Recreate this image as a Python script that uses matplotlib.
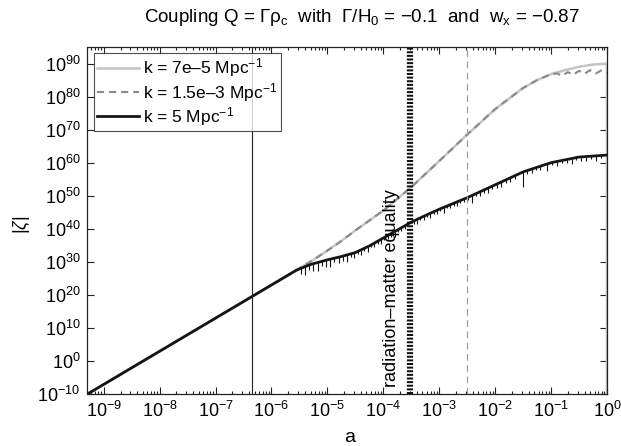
import numpy as np
import matplotlib
matplotlib.use("Agg")
import matplotlib.pyplot as plt
from matplotlib.ticker import FixedLocator, LogLocator, NullLocator, NullFormatter

plt.rcParams['font.family'] = ['Liberation Sans', 'DejaVu Sans']
plt.rcParams['mathtext.fontset'] = 'custom'
plt.rcParams['mathtext.rm'] = 'Liberation Sans'
plt.rcParams['mathtext.it'] = 'Liberation Sans:italic'
plt.rcParams['mathtext.bf'] = 'Liberation Sans:bold'

# growth common to all modes, log10(a) vs log10|zeta|
early_loga = [-9.29, -5.55]
early_logz = [-10.0, 27.5]

# k = 7e-5 and k = 1.5e-3 (identical until late times)
large_loga = [-5.55, -5.25, -5.0, -4.75, -4.5, -4.0, -3.5, -3.0, -2.5, -2.0,
              -1.5, -1.25, -1.0, -0.75, -0.5, -0.25, 0.0]
large_logz = [27.5, 30.6, 33.4, 36.3, 39.5, 45.5, 52.6, 60.5, 68.5, 76.2,
              82.6, 85.0, 86.8, 88.0, 89.0, 89.7, 90.0]

# late oscillating tail of k = 1.5e-3
tail_loga = [-1.0, -0.9, -0.8, -0.7, -0.6, -0.5, -0.4, -0.3, -0.2, -0.1, 0.0]
tail_logz = [86.8, 87.0, 86.3, 87.4, 86.6, 87.8, 86.9, 88.0, 87.0, 87.9, 87.2]

# k = 5 Mpc^-1
small_loga = [-5.55, -5.3, -5.0, -4.75, -4.5, -4.25, -4.0, -3.75, -3.5, -3.25,
              -3.0, -2.5, -2.0, -1.5, -1.0, -0.5, 0.0]
small_logz = [27.5, 29.2, 30.6, 31.6, 32.8, 34.8, 37.2, 39.6, 42.0, 44.0,
              45.9, 49.4, 53.3, 57.2, 60.0, 61.7, 62.3]

# downward spikes on the k = 5 curve (log10 a, depth in decades)
spike_loga = [-5.47, -5.40, -5.33, -5.25, -5.17, -5.10, -5.02, -4.95, -4.88, -4.80,
              -4.72, -4.65, -4.58, -4.52, -4.46, -4.40, -4.34, -4.28, -4.22, -4.16,
              -4.10, -4.04, -3.98, -3.92, -3.86, -3.80, -3.74, -3.68, -3.62, -3.46,
              -3.40, -3.34, -3.28, -3.22, -3.16, -3.10, -3.04, -2.98, -2.92, -2.86,
              -2.80, -2.74, -2.68, -2.62, -2.55, -2.48, -2.41, -2.34, -2.27, -2.20,
              -2.13, -2.05, -1.97, -1.89, -1.81, -1.73, -1.65, -1.51, -1.43, -1.35,
              -1.27, -1.19, -1.07, -0.98, -0.90, -0.81, -0.72, -0.63, -0.55, -0.46,
              -0.37, -0.28, -0.19, -0.10]
spike_depth = [1.8, 2.4, 1.5, 2.2, 2.6, 1.4, 2.0, 2.5, 1.2, 1.9,
               1.4, 2.1, 1.0, 1.6, 0.8, 1.4, 0.9, 1.5, 0.7, 1.2,
               0.8, 1.5, 0.7, 1.1, 0.9, 1.6, 0.7, 1.0, 0.8, 0.9,
               1.3, 0.7, 1.1, 0.8, 1.4, 0.7, 1.0, 0.8, 1.7, 0.7,
               1.1, 0.8, 1.4, 0.7, 1.0, 0.9, 2.2, 0.8, 1.2, 0.9,
               1.6, 0.8, 1.1, 1.4, 0.8, 1.2, 0.9, 4.5, 1.0, 1.3,
               0.8, 1.2, 2.2, 0.9, 1.3, 0.8, 1.2, 1.6, 0.8, 1.1,
               1.4, 0.8, 1.5, 0.9]

a_mid = 4.5e-7
a_eq = 3.0e-4
a_acc = 3.2e-3

fig = plt.figure(figsize=(6.21, 4.46), dpi=100)
ax = fig.add_axes([87.5 / 621, 52 / 446, 519.5 / 621, 347 / 446])

lg = np.array(early_loga + large_loga[1:])
lz = np.array(early_logz + large_logz[1:])
# light grey curve ends with a drop at a = 1
ax.plot(10 ** np.append(lg, 0.0), 10 ** np.append(lz, -20.0), color='#c4c4c4', lw=1.8,
        label='k = 7e\u20135 Mpc$^{-1}$')

dg = np.array(early_loga + large_loga[1:13] + tail_loga[1:])
dz = np.array(early_logz + large_logz[1:13] + tail_logz[1:])
ax.plot(10 ** dg, 10 ** dz, color='#8a8a8a', lw=1.5, linestyle=(0, (3.4, 2.4)),
        label='k = 1.5e\u20133 Mpc$^{-1}$')

sg = np.array(early_loga + small_loga[1:])
sz = np.array(early_logz + small_logz[1:])
ax.plot(10 ** sg, 10 ** sz, color='#151515', lw=2.0, label='k = 5 Mpc$^{-1}$')
spike_top = np.interp(spike_loga, sg, sz)
ax.vlines(10 ** np.array(spike_loga), 10 ** (spike_top - np.array(spike_depth)),
          10 ** spike_top, color='#151515', lw=0.8)

ax.axvline(a_mid, color='#222222', lw=0.8)
ax.axvline(a_acc, color='#a0a0a0', lw=0.9, linestyle=(0, (5.4, 3.6)))
ax.axvline(a_eq, color='#111111', lw=4.5, linestyle=(0, (0.32, 0.26)))
ax.text(10 ** -3.85, 10 ** -7.9, 'radiation\u2013matter equality', rotation=90,
        ha='center', va='bottom', fontsize=13)

ax.set_xscale('log')
ax.set_yscale('log')
ax.set_xlim(10 ** -9.29, 1)
ax.set_ylim(1e-10, 1e95)

ax.xaxis.set_major_locator(FixedLocator([10.0 ** k for k in range(-9, 1)]))
ax.xaxis.set_minor_locator(LogLocator(base=10, subs=np.arange(2, 10), numticks=20))
ax.xaxis.set_minor_formatter(NullFormatter())
ax.yaxis.set_major_locator(FixedLocator([10.0 ** k for k in range(-10, 91, 10)]))
ax.yaxis.set_minor_locator(NullLocator())
ax.tick_params(which='both', direction='in', top=True, right=True, labelsize=13,
               width=0.8, colors='#222222', labelcolor='black')
ax.tick_params(which='major', length=5, pad=5)
ax.tick_params(which='minor', length=2.5)
for s in ax.spines.values():
    s.set_linewidth(0.9)
    s.set_color('#222222')

leg = ax.legend(loc='upper left', fontsize=12.5, frameon=True, fancybox=False,
                edgecolor='#222222', handlelength=2.4, handletextpad=0.25,
                borderpad=0.2, labelspacing=0.08, borderaxespad=0.35)
leg.get_frame().set_linewidth(0.8)

fig.text(22 / 621, 1 - 225 / 446, r'|$\zeta$|', rotation=90, ha='center', va='center', fontsize=13)
fig.text(350 / 621, 1 - 438 / 446, 'a', ha='center', va='center', fontsize=14)
fig.text(362 / 621, 1 - 17 / 446,
         r'Coupling Q = $\mathrm{\Gamma\rho_c}$  with  $\mathrm{\Gamma}$/H$_0$ = $-$0.1  and  w$_\mathrm{x}$ = $-$0.87',
         ha='center', va='center', fontsize=13.5)

fig.savefig('out.png', dpi=100)
